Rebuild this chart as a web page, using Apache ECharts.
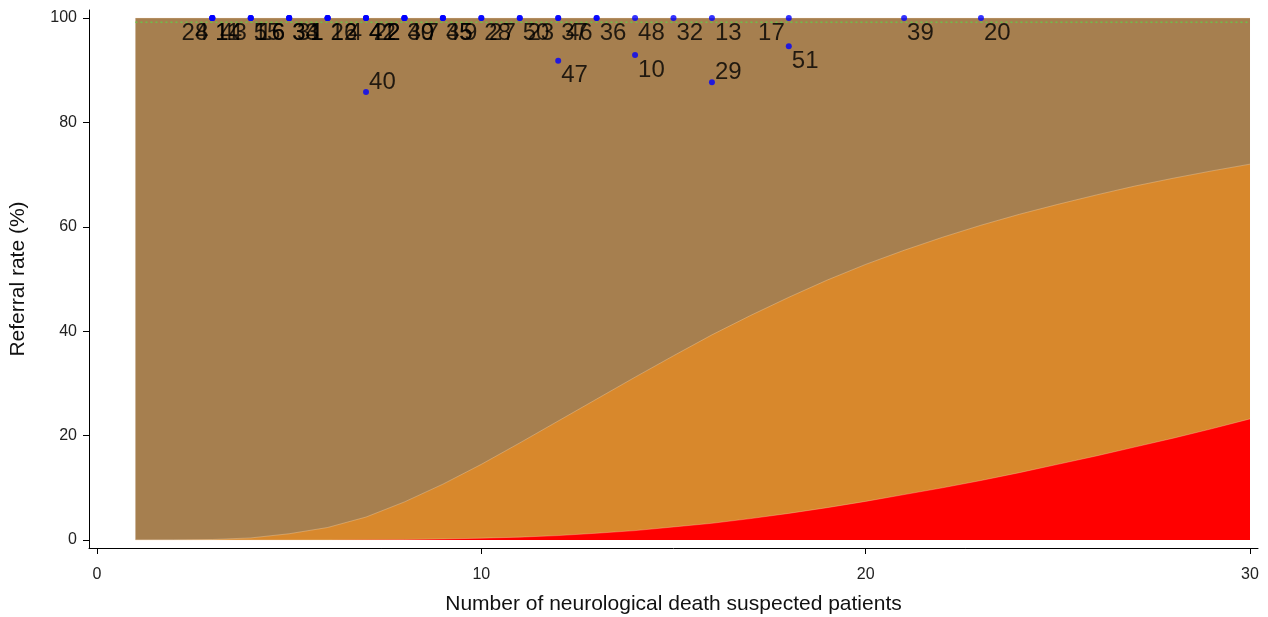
<!DOCTYPE html>
<html><head><meta charset="utf-8">
<script src="https://cdn.jsdelivr.net/npm/echarts@6/dist/echarts.min.js"></script>
<style>html,body{margin:0;padding:0;background:#fff}#c{width:1268px;height:617px}</style>
</head><body><div id="c"></div>
<script>
// x positions (number of suspected patients)
var xs = [1,2,3,4,5,6,7,8,9,10,11,12,13,14,15,16,17,18,19,20,21,22,23,24,25,26,27,28,29,30];
// band boundaries (%)
var outerBand = [100,100,100,100,100,100,100,100,100,100,100,100,100,100,100,100,100,100,100,100,100,100,100,100,100,100,100,100,100,100];
var limit95 = [0,0.02,0.1,0.4,1.2,2.4,4.4,7.3,10.7,14.5,18.6,22.8,27.0,31.2,35.3,39.3,43.0,46.5,49.8,52.8,55.5,58.0,60.3,62.4,64.3,66.1,67.8,69.3,70.7,72.0];
var limit998 = [0,0,0,0,0,0.01,0.05,0.1,0.2,0.35,0.55,0.85,1.3,1.8,2.5,3.2,4.1,5.1,6.2,7.4,8.7,10.0,11.4,12.9,14.5,16.1,17.8,19.5,21.3,23.2];
var targetLine = [99.2,99.2,99.2,99.2,99.2,99.2,99.2,99.2,99.2,99.2,99.2,99.2,99.2,99.2,99.2,99.2,99.2,99.2,99.2,99.2,99.2,99.2,99.2,99.2,99.2,99.2,99.2,99.2,99.2,99.2];
// hospitals: patients, referral rate, id
var hospX  = [3,3,3,3, 4,4,4, 5,5,5,5, 6,6,6,6, 7,7,7, 8,8,8,8, 9,9,9, 10,10, 11,11, 12,12, 13,13, 14, 15, 16, 18, 21, 23, 7, 12, 14, 16, 18];
var hospY  = [100,100,100,100, 100,100,100, 100,100,100,100, 100,100,100,100, 100,100,100, 100,100,100,100, 100,100,100, 100,100, 100,100, 100,100, 100,100, 100, 100, 100, 100, 100, 100, 85.8, 91.8, 92.9, 87.7, 94.6];
var hospId = ['24','8','11','14', '43','5','15', '16','6','33','34', '31','1','26','12', '4','41','42', '22','2','49','30', '7','45','35', '9','28', '27','50', '23','37', '46','36', '48', '32', '13', '17', '39', '20', '40', '47', '10', '29', '51'];
var yTicks = [0,20,40,60,80,100];
var xTicks = [0,10,20,30];

var leftIds = {'24':1,'8':1,'43':1,'16':1,'6':1,'31':1,'1':1,'4':1,'22':1,'2':1,'7':1,'9':1,'27':1,'23':1,'46':1,'17':1};
var aboveIds = {'40':1,'29':1};

function pairs(a){ return xs.map(function(x,i){ return [x,a[i]]; }); }
var pts = hospX.map(function(x,i){
  var id = hospId[i];
  var left = !!leftIds[id];
  var dy = aboveIds[id] ? -10 : 15;
  var lab = {show:true, formatter:id, position: left ? [-1, 3+dy] : [6, 3+dy],
             align: left ? 'right' : 'left', verticalAlign:'middle', color:'#000'};
  return {value:[x,hospY[i]], label:lab};
});

var chart = echarts.init(document.getElementById('c'), null, {renderer:'canvas'});
var F = 'Liberation Sans, Arial, sans-serif';
function area(name, data, color){
  return {name:name, type:'line', data:pairs(data), symbol:'none', smooth:false,
    lineStyle:{width:0.6, color:'rgba(255,230,200,0.5)'}, areaStyle:{color:color, opacity:1, origin:0},
    silent:true, z:1};
}
chart.setOption({
  animation:false,
  grid:{left:89, right:10, top:10, bottom:69, containLabel:false, outerBoundsMode:'none'},
  xAxis:{type:'value', min:-0.208, max:30.208,
    name:'Number of neurological death suspected patients', nameLocation:'middle', nameGap:46,
    nameTextStyle:{fontFamily:F, fontSize:21, color:'#111'},
    axisLine:{show:true, onZero:false, lineStyle:{color:'#000', width:1}},
    axisTick:{show:true, length:6, customValues:xTicks, lineStyle:{color:'#000'}},
    axisLabel:{customValues:xTicks, margin:19, fontFamily:F, fontSize:16, color:'#222'},
    splitLine:{show:false}},
  yAxis:{type:'value', min:-1.53, max:101.53,
    name:'Referral rate (%)', nameLocation:'middle', nameGap:60, nameRotate:90,
    nameTextStyle:{fontFamily:F, fontSize:21, color:'#111'},
    axisLine:{show:true, onZero:false, lineStyle:{color:'#000', width:1}},
    axisTick:{show:true, length:6, customValues:yTicks, lineStyle:{color:'#000'}},
    axisLabel:{customValues:yTicks, margin:12, fontFamily:F, fontSize:16, color:'#222'},
    splitLine:{show:false}},
  series:[
    area('outer', outerBand, '#a67f4f'),
    area('95', limit95, '#d8882c'),
    area('99.8', limit998, '#ff0000'),
    {name:'target', type:'line', data:pairs(targetLine), symbol:'none',
      lineStyle:{color:'#6cc04a', width:1.5, type:[2,3]}, z:2, silent:true},
    {name:'hospitals', type:'scatter', data:pts, symbol:'circle', symbolSize:6,
      itemStyle:{color:'#0000ff'}, z:5,
      label:{fontFamily:F, fontSize:24, color:'#000'}}
  ]
});
</script></body></html>
